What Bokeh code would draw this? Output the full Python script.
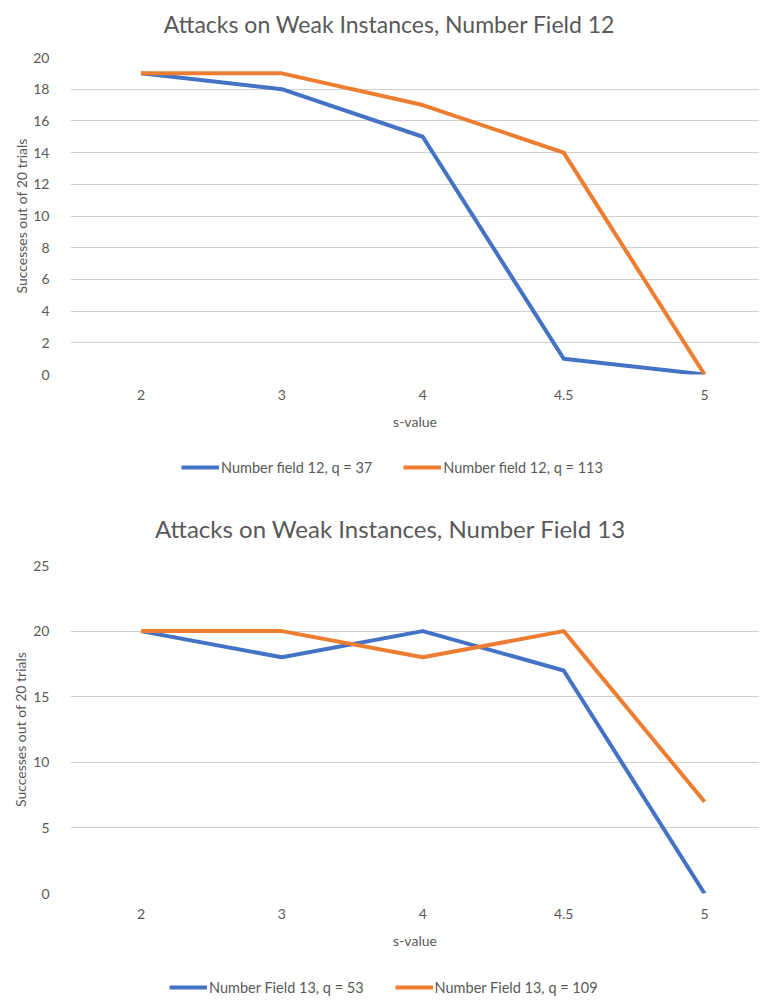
from bokeh.plotting import figure
from bokeh.models import Range1d, FixedTicker, Legend, LegendItem, Label
from bokeh.layouts import column
from bokeh.embed import file_html
from bokeh.resources import INLINE

# ---- data ----
s_values = ["2", "3", "4", "4.5", "5"]

nf12_title = "Attacks on Weak Instances, Number Field 12"
nf12_q37 = [19, 18, 15, 1, 0]
nf12_q113 = [19, 19, 17, 14, 0]
nf12_names = ["Number field 12, q = 37", "Number field 12, q = 113"]
nf12_yticks = [0, 2, 4, 6, 8, 10, 12, 14, 16, 18, 20]

nf13_title = "Attacks on Weak Instances, Number Field 13"
nf13_q53 = [20, 18, 20, 17, 0]
nf13_q109 = [20, 20, 18, 20, 7]
nf13_names = ["Number Field 13, q = 53", "Number Field 13, q = 109"]
nf13_yticks = [0, 5, 10, 15, 20, 25]

x_label = "s-value"
y_label = "Successes out of 20 trials"

BLUE = "#4472C4"
ORANGE = "#ED7D31"
COLORS = [BLUE, ORANGE]
TEXT = "#595959"
GRID = "#CFCFCF"
FONT = "Lato"
W = 759
LEFT = 70


def strip(height):
    s = figure(width=W, height=height, output_backend="svg", toolbar_location=None,
               x_range=Range1d(LEFT, W), y_range=Range1d(0, height),
               x_axis_location=None, y_axis_location=None,
               min_border_left=LEFT, min_border_right=0,
               min_border_top=0, min_border_bottom=0)
    s.grid.grid_line_color = None
    s.outline_line_color = None
    return s


def title_strip(text, height, cx, cy, size):
    t = strip(height)
    t.add_layout(Label(x=cx, y=height - cy, text=text, text_align="center",
                       text_baseline="middle", text_font=FONT,
                       text_font_size=size, text_color=TEXT))
    return t


def legend_strip(names, ys, height, lx, ly):
    s = strip(height)
    items = []
    for name, y, color in zip(names, ys, COLORS):
        # single-point proxy: draws nothing itself, only provides the legend swatch
        r = s.line([0], y[:1], line_color=color, line_width=4)
        items.append(LegendItem(label=name, renderers=[r]))
    legend = Legend(items=items, orientation="horizontal", location=(lx, ly),
                    padding=0, margin=0, spacing=31, label_standoff=2,
                    glyph_width=38, glyph_height=20, label_height=20,
                    border_line_color=None, background_fill_alpha=0,
                    label_text_font=FONT, label_text_font_size="14.5px",
                    label_text_color=TEXT)
    s.add_layout(legend, "center")
    return s


def make_chart(ys, yticks, height, b_top, b_bottom, tick_standoff, ylab_standoff):
    xs = list(range(len(s_values)))
    p = figure(width=W, height=height, output_backend="svg", toolbar_location=None,
               x_range=Range1d(-0.5, 4.39), y_range=Range1d(yticks[0], yticks[-1]),
               min_border_left=LEFT, min_border_right=0,
               min_border_top=b_top, min_border_bottom=b_bottom)
    p.outline_line_color = None
    p.xgrid.grid_line_color = None
    p.ygrid.grid_line_color = GRID
    p.ygrid.grid_line_width = 1.2

    p.xaxis.ticker = FixedTicker(ticks=xs)
    p.xaxis.major_label_overrides = {i: s for i, s in enumerate(s_values)}
    p.yaxis.ticker = FixedTicker(ticks=yticks)
    for ax in (p.xaxis[0], p.yaxis[0]):
        ax.axis_line_color = None
        ax.major_tick_line_color = None
        ax.minor_tick_line_color = None
        ax.major_label_text_font = FONT
        ax.major_label_text_font_size = "14px"
        ax.major_label_text_color = TEXT
        ax.axis_label_text_font = FONT
        ax.axis_label_text_font_size = "14px"
        ax.axis_label_text_font_style = "normal"
        ax.axis_label_text_color = TEXT
    p.xaxis.axis_label = x_label
    p.yaxis.axis_label = y_label
    p.xaxis.major_label_standoff = 9
    p.xaxis.axis_label_standoff = 10
    p.yaxis.major_label_standoff = tick_standoff
    p.yaxis.axis_label_standoff = ylab_standoff

    for y, color in zip(ys, COLORS):
        p.line(xs, y, line_color=color, line_width=4, line_join="round")
    return p


t1 = title_strip(nf12_title, 40, 389, 23, "23px")
p1 = make_chart([nf12_q37, nf12_q113], nf12_yticks,
                height=407, b_top=17, b_bottom=73, tick_standoff=15, ylab_standoff=0)
l1 = legend_strip(nf12_names, [nf12_q37, nf12_q113], 43, 111, 13)
t2 = title_strip(nf13_title, 55, 390, 38, "24px")
p2 = make_chart([nf13_q53, nf13_q109], nf13_yticks,
                height=413, b_top=20, b_bottom=65, tick_standoff=15, ylab_standoff=1)
l2 = legend_strip(nf13_names, [nf13_q53, nf13_q109], 41, 99, 2)

layout = column(t1, p1, l1, t2, p2, l2, spacing=0)
open("out.html", "w").write(file_html(layout, INLINE))
